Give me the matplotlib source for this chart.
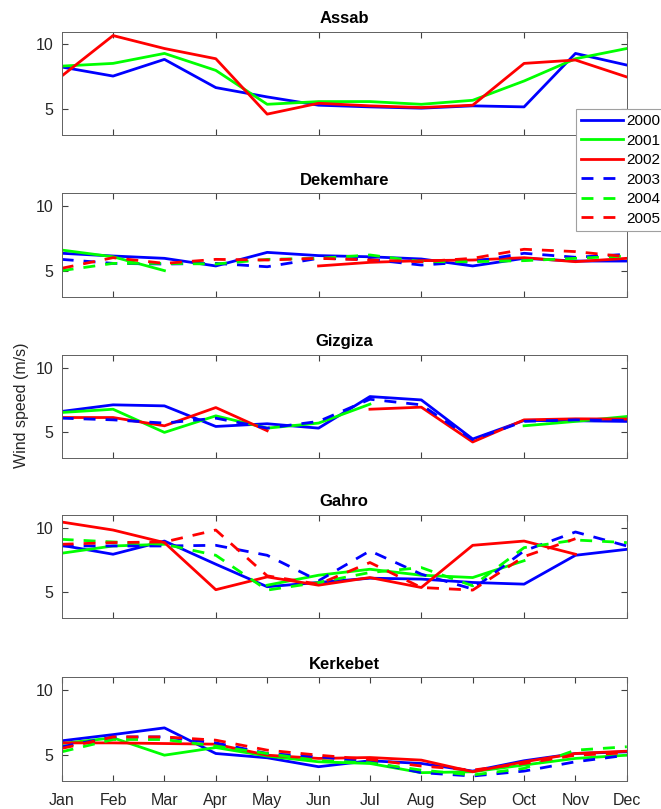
import matplotlib.pyplot as plt
import numpy as np

nan = np.nan
months = ['Jan', 'Feb', 'Mar', 'Apr', 'May', 'Jun', 'Jul', 'Aug', 'Sep', 'Oct', 'Nov', 'Dec']
years = ['2000', '2001', '2002', '2003', '2004', '2005']
stations = ['Assab', 'Dekemhare', 'Gizgiza', 'Gahro', 'Kerkebet']

# monthly mean wind speed (m/s), one list per year, NaN = no data
assab = [
    [8.26, 7.56, 8.85, 6.67, 5.95, 5.31, 5.18, 5.08, 5.26, 5.18, 9.31, 8.41],
    [8.33, 8.54, 9.31, 8.00, 5.38, 5.59, 5.59, 5.38, 5.69, 7.18, 8.90, 9.69],
    [7.56, 10.69, 9.69, 8.90, 4.62, 5.46, 5.26, 5.13, 5.31, 8.54, 8.80, 7.49],
    [nan] * 12,
    [nan] * 12,
    [nan] * 12,
]
dekemhare = [
    [6.37, 6.16, 5.98, 5.39, 6.44, 6.19, 6.10, 5.93, 5.39, 5.98, 5.77, 5.77],
    [6.62, 6.10, 5.03, nan, nan, nan, nan, nan, nan, nan, nan, nan],
    [nan, nan, nan, nan, nan, 5.39, 5.67, 5.80, 5.85, 6.03, 5.72, 5.98],
    [5.90, 5.59, 5.54, 5.59, 5.33, 5.98, 5.90, 5.46, 5.72, 6.37, 6.06, 6.29],
    [5.03, 5.59, 5.59, 5.54, 5.90, 5.98, 6.24, 5.72, 5.72, 5.80, 5.98, 6.16],
    [5.21, 6.03, 5.59, 5.90, 5.85, 5.98, 5.85, 5.72, 5.98, 6.68, 6.50, 6.10],
]
gizgiza = [
    [6.62, 7.13, 7.05, 5.46, 5.67, 5.33, 7.77, 7.51, 4.49, 5.92, 5.90, 5.85],
    [6.54, 6.79, 5.00, 6.28, 5.33, 5.72, 7.18, nan, nan, 5.51, 5.85, 6.23],
    [6.15, 6.15, 5.51, 6.92, 5.13, nan, 6.79, 6.95, 4.26, 5.97, 6.05, 6.03],
    [6.10, 5.97, 5.72, 6.10, 5.33, 5.85, 7.56, 7.13, 4.44, 5.85, 5.97, 5.92],
    [nan] * 12,
    [nan] * 12,
]
gahro = [
    [8.64, 7.95, 8.97, 7.18, 5.44, 5.77, 6.10, 6.03, 5.77, 5.64, 7.87, 8.33],
    [8.03, 8.59, 8.72, nan, 5.56, 6.33, 6.79, 6.33, 6.15, 7.45, nan, nan],
    [10.44, 9.82, 8.85, 5.21, 6.20, 5.56, 6.15, 5.38, 8.64, 8.97, 7.95, nan],
    [8.59, 8.59, 8.59, 8.64, 7.87, 5.90, 8.21, 6.41, 5.26, 8.21, 9.67, 8.59],
    [9.10, 8.90, 8.72, 7.87, 5.18, 5.77, 6.54, 6.92, 5.51, 8.46, 9.05, 8.85],
    [8.72, 8.85, 8.90, 9.82, 6.28, 5.64, 7.31, 5.38, 5.18, 7.77, 9.15, nan],
]
kerkebet = [
    [6.08, 6.56, 7.08, 5.10, 4.77, 4.08, 4.54, 4.33, 3.74, 4.54, 5.10, 5.23],
    [5.87, 6.31, 4.97, 5.56, 4.90, 4.46, 4.33, 3.62, 3.69, 4.21, 4.72, 4.97],
    [5.92, 5.92, 5.87, 5.82, 4.97, 4.72, 4.79, 4.59, 3.69, 4.46, 5.10, 5.28],
    [5.62, 6.38, 6.38, 5.92, 5.10, 4.85, 4.46, 3.62, 3.36, 3.74, 4.46, 4.97],
    [5.23, 6.18, 6.18, 5.67, 5.10, 4.54, 4.38, 3.82, 3.44, 3.95, 5.36, 5.62],
    [5.49, 6.38, 6.38, 6.13, 5.36, 4.97, 4.64, 4.13, 3.82, 4.33, 4.97, 5.15],
]
data = [assab, dekemhare, gizgiza, gahro, kerkebet]

colors = ['#0000ff', '#00ff00', '#ff0000', '#0000ff', '#00ff00', '#ff0000']
styles = ['-', '-', '-', '--', '--', '--']

plt.rcParams['font.family'] = 'Liberation Sans'

fig = plt.figure(figsize=(6.61, 8.09), dpi=100)
bottoms = [0.833, 0.633, 0.4335, 0.2357, 0.035]
x = np.arange(1, 13)

for k, (name, vals) in enumerate(zip(stations, data)):
    ax = fig.add_axes([0.0933, bottoms[k], 0.855, 0.128])
    for i in range(6):
        line, = ax.plot(x, vals[i], color=colors[i], lw=2.0, linestyle=styles[i], label=years[i])
        if styles[i] == '--':
            line.set_dashes((4.3, 3.6))
    ax.set_xlim(1, 12)
    ax.set_ylim(3, 11)
    ax.set_yticks([5, 10])
    ax.set_title(name, fontsize=12, fontweight='bold', pad=6)
    if k == 4:
        ax.set_xticks(x)
        ax.set_xticklabels(months)
    else:
        ax.set_xticks([2, 4, 6, 8, 10, 12])
        ax.set_xticklabels([])
    ax.tick_params(direction='in', top=True, right=True, labelsize=11.5,
                   length=4, color='#404040', labelcolor='#262626')
    ax.tick_params(axis='x', pad=9)
    ax.tick_params(axis='y', pad=6)
    for s in ax.spines.values():
        s.set_color('#606060')
        s.set_linewidth(0.7)
    if k == 0:
        handles, labels = ax.get_legend_handles_labels()

fig.text(0.033, 0.4994, 'Wind speed (m/s)', rotation=90, ha='center', va='center',
         fontsize=11.5, color='#262626')

leg = fig.legend(handles, labels, loc='upper left', bbox_to_anchor=(0.871, 0.8653),
                 fontsize=11, handlelength=2.75, handletextpad=0.2, labelspacing=0.36,
                 borderpad=0.35, borderaxespad=0, fancybox=False, framealpha=1,
                 edgecolor='#a0a0a0')
leg.get_frame().set_linewidth(0.8)

fig.savefig('out.png', dpi=100)
